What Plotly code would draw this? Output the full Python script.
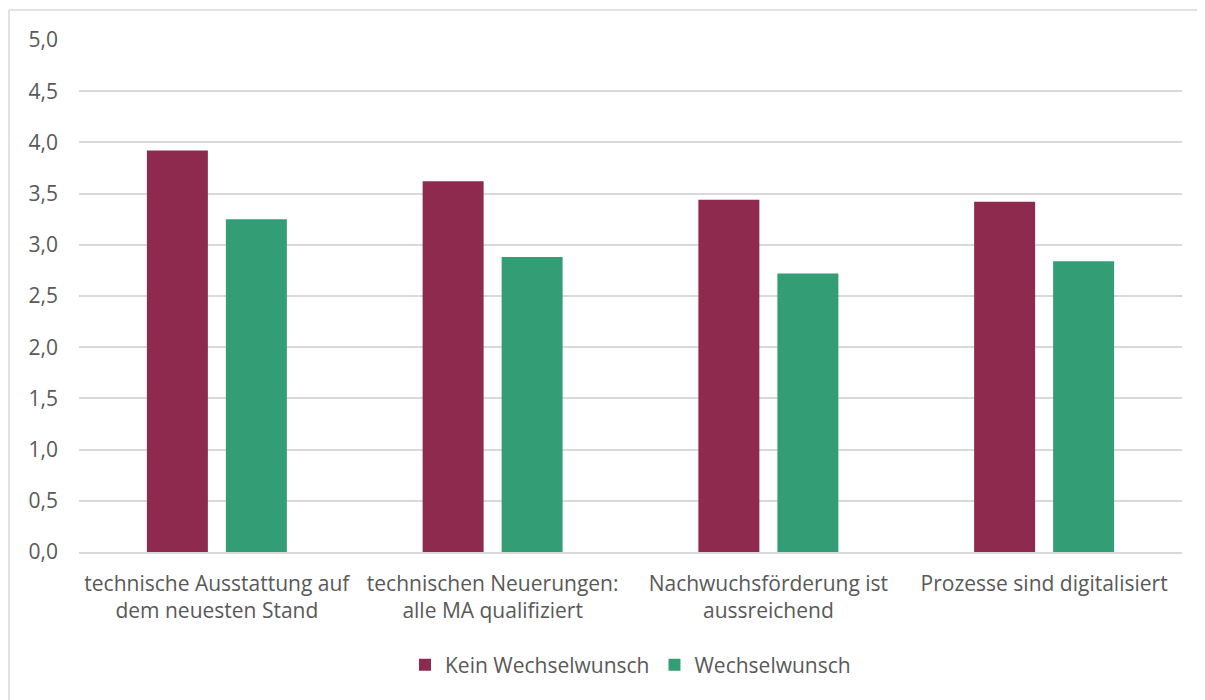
import plotly.graph_objects as go

categories = [
    "technische Ausstattung auf<br>dem neuesten Stand",
    "technischen Neuerungen:<br>alle MA qualifiziert",
    "Nachwuchsförderung ist<br>aussreichend",
    "Prozesse sind digitalisiert",
]
kein = [3.92, 3.62, 3.44, 3.42]
wechsel = [3.25, 2.88, 2.72, 2.84]

font_family = "'Open Sans', Lato, sans-serif"
text_color = "#595959"

fig = go.Figure()
fig.add_trace(go.Bar(x=categories, y=kein, name="Kein Wechselwunsch",
                     marker=dict(color="#8E2A4E", line=dict(width=0))))
fig.add_trace(go.Bar(x=categories, y=wechsel, name="Wechselwunsch",
                     marker=dict(color="#339E75", line=dict(width=0))))

# page body has an 8px margin; figure sized so the plot lands where the reference has it
OFF = 8
W, H = 1197, 692
L, R, T, B = 71, 23, 32, 148
pw, ph = W - L - R, H - T - B

def px_x(p):
    return (p - OFF - L) / pw

def px_y(p):
    return (H - B - (p - OFF)) / ph

border = dict(color="#d9d9d9", width=1.5)

fig.update_layout(
    width=W, height=H,
    margin=dict(l=L, r=R, t=T, b=B),
    paper_bgcolor="white", plot_bgcolor="white",
    barmode="group", bargap=0.427, bargroupgap=0.228,
    font=dict(family=font_family, size=21, color=text_color),
    showlegend=True,
    legend=dict(orientation="h", x=0.5, xanchor="center", y=px_y(665), yanchor="middle",
                font=dict(size=21, color=text_color), itemwidth=30, traceorder="normal"),
    xaxis=dict(showgrid=False, showline=True, linecolor="#d9d9d9", linewidth=1.5,
               ticks="", tickfont=dict(size=21, color=text_color), ticklabelstandoff=12),
    yaxis=dict(range=[0, 5], dtick=0.5, tickformat=".1f", showgrid=True,
               gridcolor="#d9d9d9", gridwidth=1.5, zeroline=False, showline=False,
               ticks="", tickfont=dict(size=21, color=text_color), ticklabelstandoff=20),
    separators=",.",
    shapes=[
        dict(type="line", xref="paper", yref="paper",
             x0=px_x(9), x1=px_x(1210), y0=px_y(10), y1=px_y(10), line=border, layer="below"),
        dict(type="line", xref="paper", yref="paper",
             x0=px_x(9), x1=px_x(9), y0=px_y(10), y1=px_y(710), line=border, layer="below"),
    ],
)

fig.write_html("out.html")
